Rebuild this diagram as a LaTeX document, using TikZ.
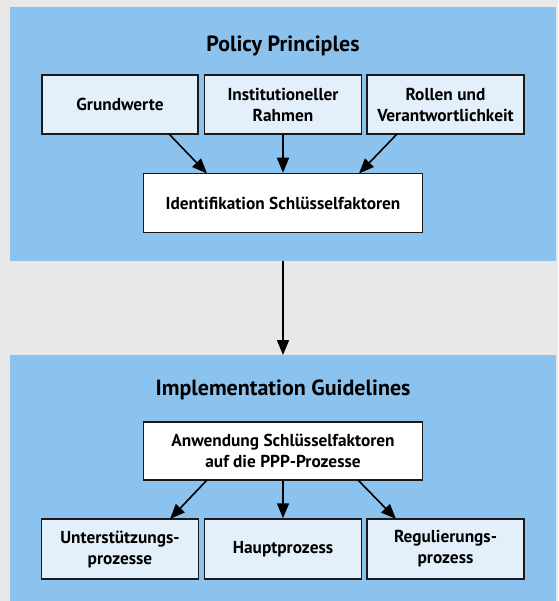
\documentclass[tikz,border=0pt]{standalone}
\usepackage{fontspec}
\setmainfont{PT Sans}
\usetikzlibrary{arrows.meta}
\definecolor{bggray}{HTML}{E8E8E8}
\definecolor{panelblue}{HTML}{8CC3EE}
\definecolor{boxlight}{HTML}{E3EFFB}
\definecolor{edgedark}{HTML}{1A1A1A}
\begin{document}
\begin{tikzpicture}[x=1pt,y=-1pt,
  lightbox/.style={draw=edgedark,line width=1.5pt,fill=boxlight,align=center,font=\bfseries\fontsize{17.3}{21}\selectfont,inner sep=0pt},
  whitebox/.style={draw=edgedark,line width=1.5pt,fill=white,align=center,font=\bfseries\fontsize{17.3}{21}\selectfont,inner sep=0pt},
  title/.style={font=\bfseries\fontsize{22}{24}\selectfont},
  conn/.style={-{Triangle[length=15pt,width=12pt]},line width=1.6pt}
]
\useasboundingbox (0,0) rectangle (558,601);
\fill[bggray] (0,0) rectangle (558,601);
\fill[panelblue] (10,7) rectangle (556,260.5);
\fill[panelblue] (10,355) rectangle (556,601);
\node[title] (t1) at (283,45.5) {Policy Principles};
\node[title] (t2) at (283,390) {Implementation Guidelines};
% top row
\node[lightbox,minimum width=156pt,minimum height=59pt] (grund) at (120,104.5) {Grundwerte};
\node[lightbox,minimum width=157pt,minimum height=59pt] (inst) at (283,104.5) {Institutioneller\\Rahmen};
\node[lightbox,minimum width=157pt,minimum height=59pt] (rollen) at (445.5,104.5) {Rollen und\\Verantwortlichkeit};
\node[whitebox,minimum width=279pt,minimum height=59pt] (ident) at (283,203) {Identifikation Schlüsselfaktoren};
\draw[conn] (169,134) -- (207,173.5);
\draw[conn] (inst.south) -- (ident.north);
\draw[conn] (397,134) -- (359,173.5);
% connector between panels
\coordinate (p1bot) at (283,260.5);
\coordinate (p2top) at (283,355);
\draw[conn] (p1bot) -- (p2top);
% bottom
\node[whitebox,minimum width=279pt,minimum height=58pt] (anw) at (283,451) {Anwendung Schlüsselfaktoren\\auf die PPP-Prozesse};
\node[lightbox,minimum width=157pt,minimum height=60pt] (unter) at (120,549) {Unterstützungs-\\prozesse};
\node[lightbox,minimum width=157pt,minimum height=60pt] (haupt) at (283,549) {Hauptprozess};
\node[lightbox,minimum width=157pt,minimum height=60pt] (regul) at (445.5,549) {Regulierungs-\\prozess};
\draw[conn] (207,480) -- (170,519);
\draw[conn] (anw.south) -- (haupt.north);
\draw[conn] (358,480) -- (396,519);
\end{tikzpicture}
\end{document}
